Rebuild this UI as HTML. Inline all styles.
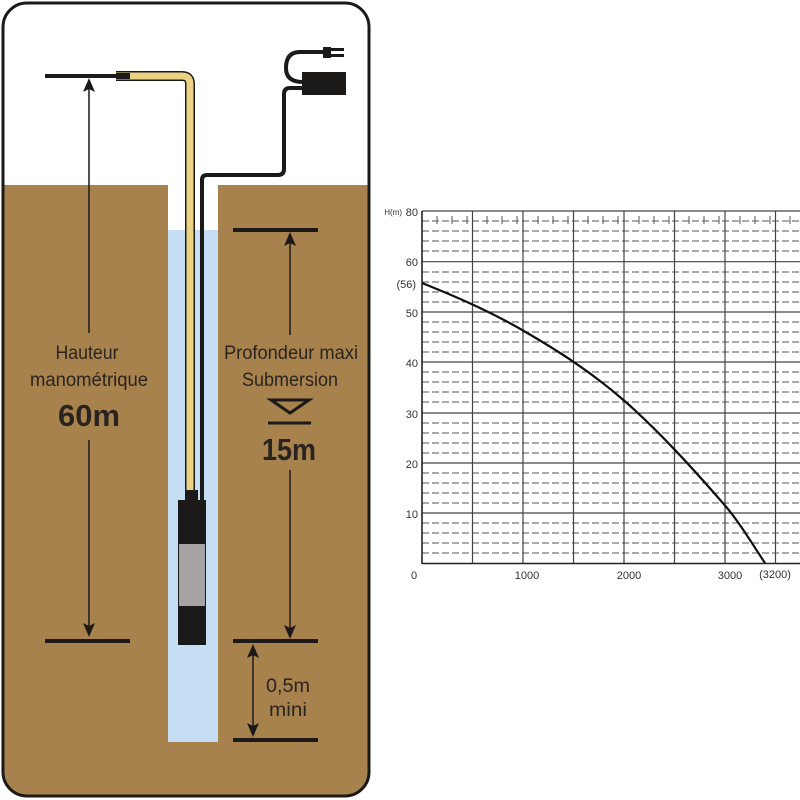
<!DOCTYPE html>
<html><head><meta charset="utf-8"><style>
html,body{margin:0;padding:0;background:#fff;width:800px;height:800px;overflow:hidden}
text{font-family:"Liberation Sans Narrow","Liberation Sans",sans-serif}
</style></head><body>
<svg width="800" height="800" viewBox="0 0 800 800" xmlns="http://www.w3.org/2000/svg">
<defs><clipPath id="c"><rect x="3" y="3" width="366" height="793" rx="24"/></clipPath></defs>
<g clip-path="url(#c)">
<rect x="0" y="0" width="372" height="800" fill="#fff"/>
<rect x="0" y="185" width="168" height="620" fill="#a8824d"/>
<rect x="218" y="185" width="160" height="620" fill="#a8824d"/>
<rect x="168" y="742" width="50" height="60" fill="#a8824d"/>
<rect x="168" y="230" width="50" height="512" fill="#c6def4"/>
</g>
<rect x="3" y="3" width="366" height="793" rx="24" fill="none" stroke="#1c1a18" stroke-width="3"/>
<path d="M116 76 H182 Q190 76 190 84 V495" fill="none" stroke="#1c1a18" stroke-width="10"/>
<path d="M116 76 H182 Q190 76 190 84 V495" fill="none" stroke="#ecd384" stroke-width="7"/>
<rect x="116" y="73" width="14" height="6" fill="#1c1a18"/>
<path d="M202 500 V180 Q202 175 207 175 H278 Q284 175 284 169 V94 Q284 88 290 88 H303" fill="none" stroke="#1c1a18" stroke-width="4"/>
<path d="M303 82 Q286 82 286 68 Q286 52 300 52 H327" fill="none" stroke="#1c1a18" stroke-width="4"/>
<rect x="302" y="72" width="44" height="23" fill="#1c1a18"/>
<rect x="323" y="47" width="8" height="11" fill="#1c1a18"/>
<rect x="330" y="48" width="14" height="3" fill="#1c1a18"/>
<rect x="330" y="54" width="14" height="3" fill="#1c1a18"/>
<rect x="185" y="490" width="13" height="12" fill="#1c1a18"/>
<rect x="178" y="500" width="28" height="145" fill="#1c1a18"/>
<rect x="179" y="544" width="26" height="62" fill="#a9a3a6"/>
<g stroke="#1c1a18" fill="#1c1a18">
<line x1="45" y1="76" x2="116" y2="76" stroke-width="4"/>
<line x1="45" y1="641" x2="130" y2="641" stroke-width="4"/>
<line x1="89" y1="84" x2="89" y2="333" stroke-width="1.5"/>
<line x1="89" y1="440" x2="89" y2="628" stroke-width="1.5"/>
<path d="M89 78 L83 92 L89 89 L95 92 Z" stroke="none"/>
<path d="M89 637 L83 623 L89 626 L95 623 Z" stroke="none"/>
<line x1="233" y1="230" x2="318" y2="230" stroke-width="4"/>
<line x1="233" y1="641" x2="318" y2="641" stroke-width="4"/>
<line x1="233" y1="740" x2="318" y2="740" stroke-width="4"/>
<line x1="290" y1="238" x2="290" y2="335" stroke-width="1.5"/>
<line x1="290" y1="470" x2="290" y2="630" stroke-width="1.5"/>
<path d="M290 232 L284 246 L290 243 L296 246 Z" stroke="none"/>
<path d="M290 639 L284 625 L290 628 L296 625 Z" stroke="none"/>
<line x1="253" y1="652" x2="253" y2="730" stroke-width="1.5"/>
<path d="M253 644 L247 658 L253 655 L259 658 Z" stroke="none"/>
<path d="M253 737 L247 723 L253 726 L259 723 Z" stroke="none"/>
<path d="M271 400 L309 400 L290 413 Z" fill="none" stroke-width="3"/>
<line x1="268" y1="423" x2="311" y2="423" stroke-width="3"/>
</g>
<g fill="#2a2420" text-anchor="middle" font-size="19">
<text x="87" y="359" textLength="63" lengthAdjust="spacingAndGlyphs">Hauteur</text>
<text x="89" y="386" textLength="118" lengthAdjust="spacingAndGlyphs">manométrique</text>
<text x="89" y="426" font-size="31" font-weight="bold" textLength="62" lengthAdjust="spacingAndGlyphs">60m</text>
<text x="291" y="359" textLength="134" lengthAdjust="spacingAndGlyphs">Profondeur maxi</text>
<text x="290" y="386" textLength="96" lengthAdjust="spacingAndGlyphs">Submersion</text>
<text x="289" y="460" font-size="31" font-weight="bold" textLength="54" lengthAdjust="spacingAndGlyphs">15m</text>
<text x="288" y="692" textLength="44" lengthAdjust="spacingAndGlyphs">0,5m</text>
<text x="288" y="716" textLength="38" lengthAdjust="spacingAndGlyphs">mini</text>
</g>
<g stroke="#555" stroke-width="1" stroke-dasharray="7,3">
<line x1="422" y1="221" x2="800" y2="221"/><line x1="422" y1="231" x2="800" y2="231"/><line x1="422" y1="241" x2="800" y2="241"/><line x1="422" y1="251" x2="800" y2="251"/>
<line x1="422" y1="272" x2="800" y2="272"/><line x1="422" y1="282" x2="800" y2="282"/><line x1="422" y1="292" x2="800" y2="292"/><line x1="422" y1="302" x2="800" y2="302"/>
<line x1="422" y1="322" x2="800" y2="322"/><line x1="422" y1="332" x2="800" y2="332"/><line x1="422" y1="342" x2="800" y2="342"/><line x1="422" y1="352" x2="800" y2="352"/>
<line x1="422" y1="372" x2="800" y2="372"/><line x1="422" y1="382" x2="800" y2="382"/><line x1="422" y1="392" x2="800" y2="392"/><line x1="422" y1="402" x2="800" y2="402"/>
<line x1="422" y1="423" x2="800" y2="423"/><line x1="422" y1="433" x2="800" y2="433"/><line x1="422" y1="443" x2="800" y2="443"/><line x1="422" y1="453" x2="800" y2="453"/>
<line x1="422" y1="473" x2="800" y2="473"/><line x1="422" y1="483" x2="800" y2="483"/><line x1="422" y1="493" x2="800" y2="493"/><line x1="422" y1="503" x2="800" y2="503"/>
<line x1="422" y1="523" x2="800" y2="523"/><line x1="422" y1="533" x2="800" y2="533"/><line x1="422" y1="543" x2="800" y2="543"/><line x1="422" y1="553" x2="800" y2="553"/>
</g>
<g stroke="#555" stroke-width="1">
<path d="M437 216V224M452 216V224M467 216V224M487 216V224M502 216V224M517 216V224M538 216V224M553 216V224M568 216V224M588 216V224M603 216V224M618 216V224M639 216V224M654 216V224M669 216V224M689 216V224M704 216V224M719 216V224M740 216V224M755 216V224M770 216V224M790 216V224"/>
</g>
<g stroke="#444" stroke-width="1.2">
<line x1="422" y1="211" x2="800" y2="211"/><line x1="422" y1="261.7" x2="800" y2="261.7"/><line x1="422" y1="312" x2="800" y2="312"/><line x1="422" y1="362" x2="800" y2="362"/><line x1="422" y1="413" x2="800" y2="413"/><line x1="422" y1="463" x2="800" y2="463"/><line x1="422" y1="513" x2="800" y2="513"/>
<line x1="472.5" y1="211" x2="472.5" y2="563"/><line x1="523" y1="211" x2="523" y2="563"/><line x1="573.5" y1="211" x2="573.5" y2="563"/><line x1="624" y1="211" x2="624" y2="563"/><line x1="674.5" y1="211" x2="674.5" y2="563"/><line x1="725" y1="211" x2="725" y2="563"/><line x1="775.5" y1="211" x2="775.5" y2="563"/>
</g>
<g stroke="#222" stroke-width="1.6">
<line x1="422" y1="211" x2="422" y2="564"/><line x1="422" y1="563.5" x2="800" y2="563.5"/>
</g>
<path d="M422 283 C455.7 296.5 489.3 311 523 330.5 C556.7 350 590.3 371.2 624 400.5 C657.7 429.8 691.3 466.7 725 505.5 C738.3 520.8 751.7 543 765 563" fill="none" stroke="#111" stroke-width="2.2"/>
<g fill="#333" font-size="11" text-anchor="end">
<text x="418" y="216">80</text><text x="418" y="266">60</text><text x="416" y="288">(56)</text><text x="418" y="317">50</text><text x="418" y="367">40</text><text x="418" y="418">30</text><text x="418" y="468">20</text><text x="418" y="518">10</text>
<text x="402" y="215" font-size="8">H(m)</text>
</g>
<g fill="#333" font-size="11" text-anchor="middle">
<text x="414" y="579">0</text><text x="527" y="579">1000</text><text x="629" y="579">2000</text><text x="730" y="579">3000</text><text x="775" y="578">(3200)</text>
</g>
</svg>
</body></html>
